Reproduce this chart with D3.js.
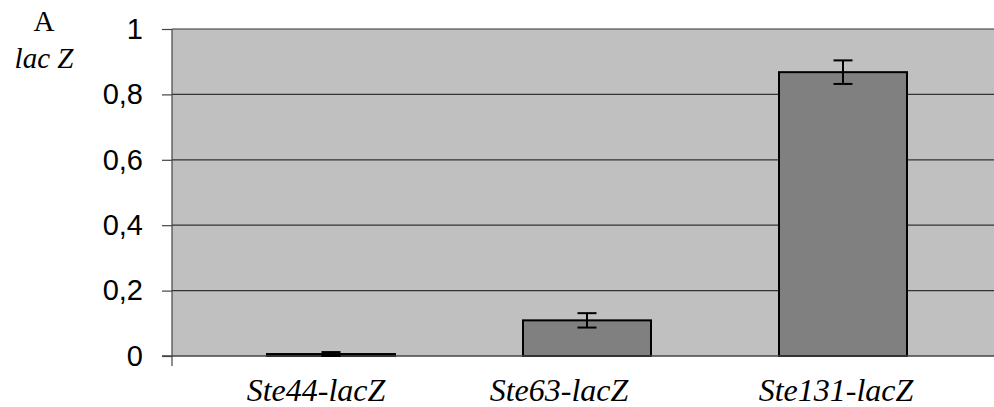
<html>
<head>
  <script src="https://d3js.org/d3.v7.min.js"></script>
  <style>
    body { margin: 0; padding: 0; background: #fff; }
    svg { display: block; }
  </style>
</head>
<body>
<div id="chart"></div>
<script>
// values
const categories = ["Ste44-lacZ", "Ste63-lacZ", "Ste131-lacZ"];
const means = [0.006, 0.109, 0.868];
const errors = [0.006, 0.022, 0.036];
const yTicks = [0, 0.2, 0.4, 0.6, 0.8, 1];
const labelNudge = [-15, -28, -7];

const width = 994, height = 407;
const plot = { left: 172, right: 994, top: 29, bottom: 356 };
const serif = "'Liberation Serif', 'Times New Roman', serif";
const sans = "'Liberation Sans', Arial, sans-serif";

const svg = d3.select("#chart").append("svg")
  .attr("width", width)
  .attr("height", height);

const y = d3.scaleLinear().domain([0, 1]).range([plot.bottom, plot.top]);
const x = d3.scaleBand().domain(categories).range([203, 971])
  .paddingInner(0.5).paddingOuter(0.25);

// plot area
svg.append("rect")
  .attr("x", plot.left).attr("y", plot.top)
  .attr("width", plot.right - plot.left).attr("height", plot.bottom - plot.top)
  .attr("fill", "#c0c0c0");

// gridlines
svg.selectAll("line.grid")
  .data(yTicks.filter(d => d > 0))
  .enter().append("line")
  .attr("class", "grid")
  .attr("x1", plot.left).attr("x2", plot.right)
  .attr("y1", d => y(d)).attr("y2", d => y(d))
  .attr("stroke", "#333").attr("stroke-width", 1.2);

// y axis
const yAxis = svg.append("g")
  .attr("transform", `translate(${plot.left},0)`)
  .call(d3.axisLeft(y).tickValues(yTicks).tickSize(10).tickPadding(19)
    .tickFormat(d => d3.format("")(d).replace(".", ",")));
yAxis.select(".domain").remove();
yAxis.attr("font-family", null).attr("font-size", null);
yAxis.selectAll(".tick line").attr("stroke", "#444").attr("stroke-width", 1.2);
yAxis.selectAll(".tick text")
  .style("font-family", sans)
  .style("font-size", "29px")
  .attr("fill", "#000");

svg.append("line")
  .attr("x1", plot.left).attr("x2", plot.left)
  .attr("y1", plot.top).attr("y2", plot.bottom + 10)
  .attr("stroke", "#444").attr("stroke-width", 1.2);

// bars
svg.selectAll("rect.bar")
  .data(categories)
  .enter().append("rect")
  .attr("class", "bar")
  .attr("x", d => x(d))
  .attr("width", x.bandwidth())
  .attr("y", (d, i) => y(means[i]))
  .attr("height", (d, i) => y(0) - y(means[i]))
  .attr("fill", "#808080")
  .attr("stroke", "#000")
  .attr("stroke-width", 2);

// bottom line
svg.append("line")
  .attr("x1", plot.left - 10).attr("x2", plot.right)
  .attr("y1", plot.bottom).attr("y2", plot.bottom)
  .attr("stroke", "#444").attr("stroke-width", 1.5);

// error bars
const capW = 9.5;
const eb = svg.selectAll("g.err")
  .data(categories)
  .enter().append("g")
  .attr("class", "err")
  .attr("stroke", "#000")
  .attr("stroke-width", 2);
eb.append("line")
  .attr("x1", d => x(d) + x.bandwidth() / 2).attr("x2", d => x(d) + x.bandwidth() / 2)
  .attr("y1", (d, i) => y(means[i] + errors[i])).attr("y2", (d, i) => y(Math.max(0, means[i] - errors[i])));
eb.append("line")
  .attr("x1", d => x(d) + x.bandwidth() / 2 - capW).attr("x2", d => x(d) + x.bandwidth() / 2 + capW)
  .attr("y1", (d, i) => y(means[i] + errors[i])).attr("y2", (d, i) => y(means[i] + errors[i]));
eb.append("line")
  .attr("x1", d => x(d) + x.bandwidth() / 2 - capW).attr("x2", d => x(d) + x.bandwidth() / 2 + capW)
  .attr("y1", (d, i) => y(Math.max(0, means[i] - errors[i]))).attr("y2", (d, i) => y(Math.max(0, means[i] - errors[i])));

// category labels
const xAxis = svg.append("g")
  .attr("transform", `translate(0,${plot.bottom})`)
  .call(d3.axisBottom(x).tickSize(0).tickPadding(0));
xAxis.select(".domain").remove();
xAxis.attr("font-family", null).attr("font-size", null);
xAxis.selectAll(".tick text")
  .attr("dy", 0)
  .attr("y", 45)
  .attr("dx", (d, i) => labelNudge[i])
  .style("font-family", serif)
  .style("font-style", "italic")
  .style("font-size", "32px")
  .attr("fill", "#000");

// corner label
svg.append("text")
  .attr("x", 44).attr("y", 31)
  .attr("text-anchor", "middle")
  .style("font-family", serif)
  .style("font-size", "29px")
  .text("A");
svg.append("text")
  .attr("x", 44).attr("y", 68)
  .attr("text-anchor", "middle")
  .style("font-family", serif)
  .style("font-style", "italic")
  .style("font-size", "29px")
  .text("lac Z");
</script>
</body>
</html>
